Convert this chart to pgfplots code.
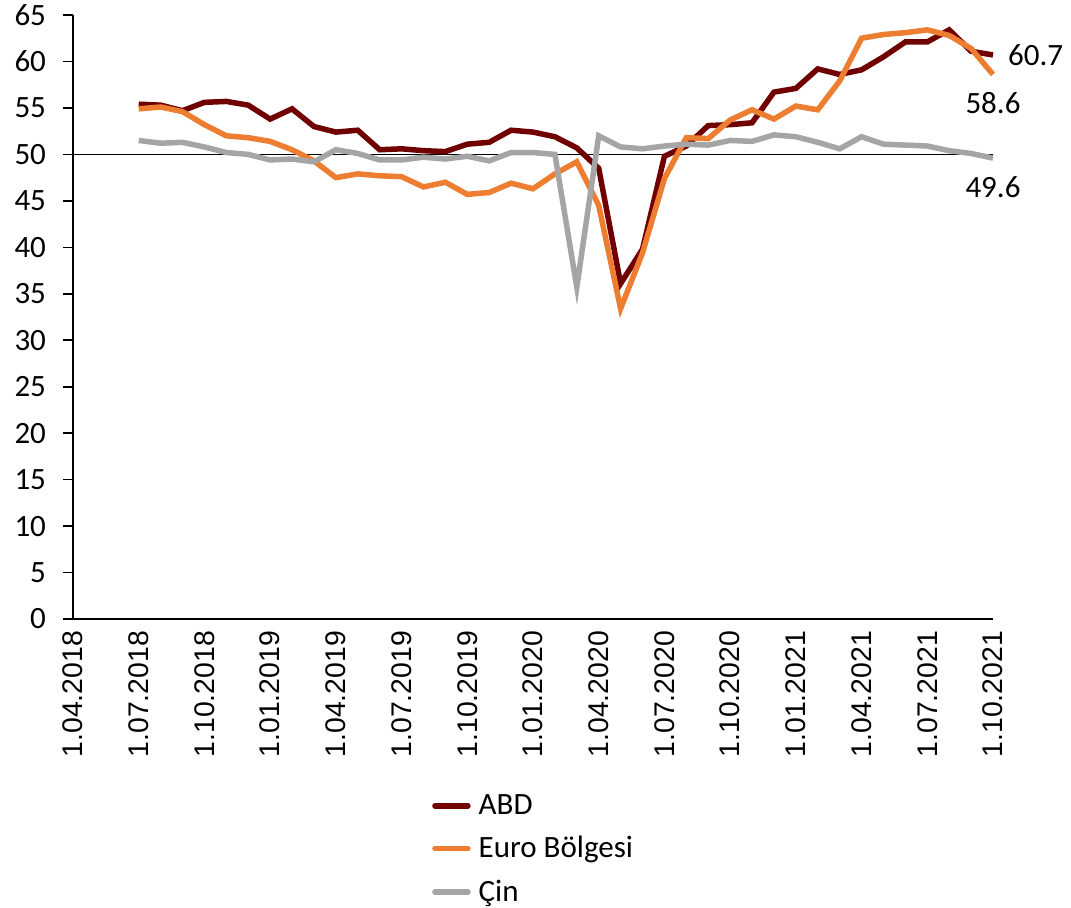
\documentclass[border=0pt]{standalone}
\usepackage{pgfplots}
\pgfplotsset{compat=1.18}
\usepackage{fontspec}
\setmainfont{Carlito}
\newfontfamily\datefont{Liberation Sans}
\definecolor{abd}{RGB}{112,0,0}
\definecolor{euro}{HTML}{ED7D31}
\definecolor{cin}{HTML}{A5A5A5}
\begin{document}
\begin{tikzpicture}
\begin{axis}[
  at={(0,0)}, anchor=south west,
  scale only axis, width=460pt, height=302pt,
  xmin=0, xmax=42, ymin=0, ymax=65,
  axis x line=bottom, axis y line=left,
  axis line style={-, line width=0.8pt, black},
  xtick={0,3,...,42},
  xticklabels={1.04.2018,1.07.2018,1.10.2018,1.01.2019,1.04.2019,1.07.2019,1.10.2019,1.01.2020,1.04.2020,1.07.2020,1.10.2020,1.01.2021,1.04.2021,1.07.2021,1.10.2021},
  xticklabel style={rotate=90, anchor=east, font=\datefont\fontsize{14.2}{16}\selectfont},
  xtick style={draw=none},
  ytick={0,5,...,65},
  ytick align=outside, major tick length=5pt,
  ytick style={line width=0.8pt, black},
  yticklabel style={font=\fontsize{15.5}{18}\selectfont, xshift=-5pt},
  /pgf/number format/assume math mode=true,
  clip=false,
  legend style={at={(0.39,-0.283)}, anchor=north west, draw=none, fill=none,
    font=\fontsize{15.5}{18}\selectfont, row sep=5.5pt, inner sep=0pt,
    /tikz/every even column/.append style={column sep=0pt}},
  legend cell align=left,
  legend image code/.code={\draw[#1, line cap=round] (0pt,0pt) -- (16.5pt,0pt);},
]
\addplot[black, line width=0.75pt, forget plot] coordinates {(0,50) (42,50)};
\addplot[abd, line width=2.75pt] table[x=x, y=y] {
x y
3 55.4
4 55.3
5 54.7
6 55.6
7 55.7
8 55.3
9 53.8
10 54.9
11 53.0
12 52.4
13 52.6
14 50.5
15 50.6
16 50.4
17 50.3
18 51.1
19 51.3
20 52.6
21 52.4
22 51.9
23 50.7
24 48.5
25 36.1
26 39.8
27 49.8
28 50.9
29 53.1
30 53.2
31 53.4
32 56.7
33 57.1
34 59.2
35 58.6
36 59.1
37 60.5
38 62.1
39 62.1
40 63.4
41 61.1
42 60.7
};
\addlegendentry{\hspace{2pt}ABD}
\addplot[euro, line width=2.75pt] table[x=x, y=y] {
x y
3 54.9
4 55.1
5 54.6
6 53.2
7 52.0
8 51.8
9 51.4
10 50.5
11 49.3
12 47.5
13 47.9
14 47.7
15 47.6
16 46.5
17 47.0
18 45.7
19 45.9
20 46.9
21 46.3
22 47.9
23 49.2
24 44.5
25 33.4
26 39.4
27 47.4
28 51.8
29 51.7
30 53.7
31 54.8
32 53.8
33 55.2
34 54.8
35 57.9
36 62.5
37 62.9
38 63.1
39 63.4
40 62.8
41 61.4
42 58.6
};
\addlegendentry{\hspace{2pt}Euro Bölgesi}
\addplot[cin, line width=2.75pt] table[x=x, y=y] {
x y
3 51.5
4 51.2
5 51.3
6 50.8
7 50.2
8 50.0
9 49.4
10 49.5
11 49.2
12 50.5
13 50.1
14 49.4
15 49.4
16 49.7
17 49.5
18 49.8
19 49.3
20 50.2
21 50.2
22 50.0
23 35.7
24 52.0
25 50.8
26 50.6
27 50.9
28 51.1
29 51.0
30 51.5
31 51.4
32 52.1
33 51.9
34 51.3
35 50.6
36 51.9
37 51.1
38 51.0
39 50.9
40 50.4
41 50.1
42 49.6
};
\addlegendentry{\hspace{2pt}Çin}
\node[anchor=west, font=\fontsize{15.5}{18}\selectfont, xshift=4pt] at (axis cs:42,60.7) {60.7};
\node[font=\fontsize{15.5}{18}\selectfont, yshift=-14.5pt] at (axis cs:42,58.6) {58.6};
\node[font=\fontsize{15.5}{18}\selectfont, yshift=-14.75pt] at (axis cs:42,49.6) {49.6};
\end{axis}
\pgfresetboundingbox
\path[use as bounding box] (-36.5pt,-144pt) rectangle (499pt,309.5pt);
\end{tikzpicture}
\end{document}
